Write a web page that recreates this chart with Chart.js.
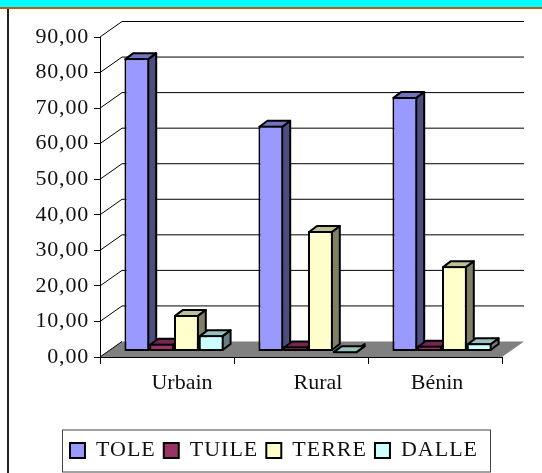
<!DOCTYPE html>
<html><head><meta charset="utf-8">
<style>
html,body{margin:0;padding:0;background:#fff;width:542px;height:473px;overflow:hidden}
#band{position:absolute;left:0;top:0;width:542px;height:7px;background:#00FFFF;border-bottom:2px solid #C05A10}
#rule{position:absolute;left:7px;top:9px;width:2px;height:464px;background:#222}
canvas{position:absolute;left:0;top:0}
</style>
<script src="https://cdn.jsdelivr.net/npm/chart.js@4/dist/chart.umd.min.js"></script>
</head><body>
<div id="band"></div><div id="rule"></div>
<canvas id="c" width="542" height="473"></canvas>
<script>
const categories = ['Urbain','Rural','Bénin'];
const tole  = [82.5, 63.5, 71.6];
const tuile = [2.2, 1.4, 1.6];
const terre = [10.3, 33.9, 24.0];
const dalle = [4.6, 0.1, 2.3];
const labelShift = [15, 17, 2];

const FONT = {family:'"Liberation Serif"', size:22};
const WALL = {dx:22, dy:-15.5};
const BAR = {shiftX:7, shiftY:-5.5, dx:8, dy:-6};

const shades = [
  {top:'#7373BF', side:'#4D4D80'},
  {top:'#732650', side:'#4D1933'},
  {top:'#BFBF99', side:'#808066'},
  {top:'#99BFBF', side:'#668080'}
];

function drawDepth(c, meta, s){
  c.strokeStyle = '#000'; c.lineWidth = 2; c.lineJoin = 'round';
  meta.data.forEach(b=>{
    const l = b.x-b.width/2+1, r = b.x+b.width/2-1, t = b.y+1, bt = b.base-1;
    c.fillStyle = s.side;
    c.beginPath();
    c.moveTo(r,bt); c.lineTo(r+BAR.dx,bt+BAR.dy); c.lineTo(r+BAR.dx,t+BAR.dy); c.lineTo(r,t);
    c.closePath(); c.fill(); c.stroke();
    c.fillStyle = s.top;
    c.beginPath();
    c.moveTo(l,t); c.lineTo(l+BAR.dx,t+BAR.dy); c.lineTo(r+BAR.dx,t+BAR.dy); c.lineTo(r,t);
    c.closePath(); c.fill(); c.stroke();
  });
}

const scene = {
  id:'scene',
  beforeUpdate(chart){ chart.ctx.letterSpacing = '1px'; },
  afterLayout(chart){
    const L = chart.legend;
    L.left += 23; L.right += 23; L.top -= 1.5; L.bottom -= 1.5;
  },
  beforeDraw(chart){
    const c = chart.ctx;
    const xs = chart.scales.x, ys = chart.scales.y;
    xs.getLabelItems().forEach((it,i)=>{
      if(!it._moved){ it.options.translation[0] += labelShift[i]; it._moved = true; }
    });
    if(!xs._spaced){
      xs._spaced = true;
      const ox = xs.drawLabels, oy = ys.drawLabels;
      xs.drawLabels = function(a){ c.letterSpacing='0px'; ox.call(this,a); c.letterSpacing='1px'; };
      ys.drawLabels = function(a){ c.letterSpacing='0.8px'; oy.call(this,a); c.letterSpacing='1px'; };
    }
    c.save();
    c.fillStyle = '#fff'; c.strokeStyle = '#444'; c.lineWidth = 1;
    c.fillRect(62.5,430,428,42); c.strokeRect(62.5,430,428,42);
    c.restore();
  },
  beforeDatasetsDraw(chart){
    const c = chart.ctx, a = chart.chartArea, y = chart.scales.y;
    c.save();
    c.fillStyle = '#808080';
    c.beginPath();
    c.moveTo(a.left,a.bottom);
    c.lineTo(a.left+WALL.dx,a.bottom+WALL.dy);
    c.lineTo(a.right+WALL.dx,a.bottom+WALL.dy);
    c.lineTo(a.right,a.bottom);
    c.closePath(); c.fill();
    c.strokeStyle = '#000'; c.lineWidth = 1;
    y.ticks.forEach(t=>{
      const p = y.getPixelForValue(t.value);
      c.beginPath();
      c.moveTo(a.left,p);
      c.lineTo(a.left+WALL.dx,p+WALL.dy);
      if(t.value>0) c.lineTo(a.right+WALL.dx,p+WALL.dy);
      c.stroke();
    });
    c.translate(BAR.shiftX,BAR.shiftY);
    // left-to-right so each bar's front covers its neighbour's side face
    chart.data.datasets.forEach((d,i)=>{
      const meta = chart.getDatasetMeta(i);
      drawDepth(c, meta, shades[i]);
      meta.controller.draw();
    });
    c.restore();
    return false;
  }
};

const mk = (label,data,color)=>({label,data,backgroundColor:color,borderColor:'#000',
  borderWidth:2,borderSkipped:false,barPercentage:1,categoryPercentage:0.74});

new Chart(document.getElementById('c'),{
  type:'bar',
  data:{labels:categories,datasets:[
    mk('TOLE',tole,'#9999FF'),
    mk('TUILE',tuile,'#993366'),
    mk('TERRE',terre,'#FFFFCC'),
    mk('DALLE',dalle,'#CCFFFF')
  ]},
  plugins:[scene],
  options:{
    responsive:false,animation:false,
    layout:{padding:{top:37,right:40,left:0,bottom:0}},
    plugins:{
      tooltip:{enabled:false},
      legend:{position:'bottom',labels:{font:FONT,color:'#111',boxWidth:15,boxHeight:15,padding:8}}
    },
    scales:{
      x:{
        afterFit(s){ s.height = 116 - (s.chart.legend ? s.chart.legend.height : 0); },
        grid:{display:true,drawOnChartArea:false,drawTicks:true,tickLength:7,color:'#000',offset:true},
        border:{display:true,color:'#000',width:1},
        ticks:{font:FONT,color:'#111',padding:6,maxRotation:0}
      },
      y:{
        min:0,max:90,
        afterFit(s){ s.width = 100; },
        grid:{display:true,drawOnChartArea:false,drawTicks:true,tickLength:6,color:'#000'},
        border:{display:true,color:'#000',width:1},
        ticks:{stepSize:10,font:FONT,color:'#111',padding:5,callback:v=>v.toFixed(2).replace('.',',')}
      }
    }
  }
});
</script>
</body></html>
